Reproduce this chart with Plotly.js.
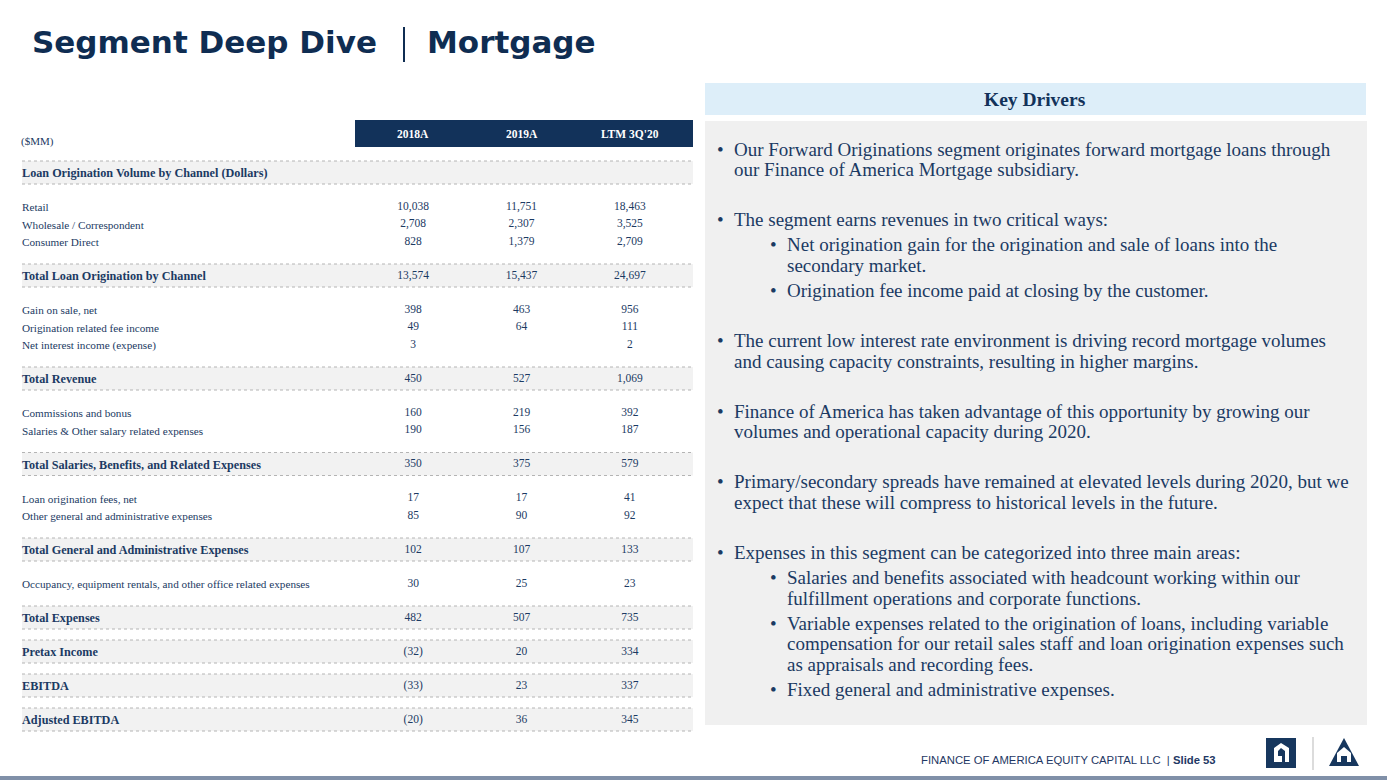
<!DOCTYPE html>
<html><head><meta charset="utf-8">
<script src="https://cdn.plot.ly/plotly-3.0.1.min.js"></script>
<style>html,body{margin:0;padding:0;background:#fff}#chart{width:1387px;height:780px}</style>
</head><body><div id="chart"></div>
<script>
// ---------------- DATA ----------------
const columns = ["2018A", "2019A", "LTM 3Q'20"];
const rowLabels = [
  "Loan Origination Volume by Channel (Dollars)",
  "Retail", "Wholesale / Correspondent", "Consumer Direct",
  "Total Loan Origination by Channel",
  "Gain on sale, net", "Origination related fee income", "Net interest income (expense)",
  "Total Revenue",
  "Commissions and bonus", "Salaries & Other salary related expenses",
  "Total Salaries, Benefits, and Related Expenses",
  "Loan origination fees, net", "Other general and administrative expenses",
  "Total General and Administrative Expenses",
  "Occupancy, equipment rentals, and other office related expenses",
  "Total Expenses", "Pretax Income", "EBITDA", "Adjusted EBITDA"
];
const rowKinds = ["section","item","item","item","total","item","item","item","total",
  "item","item","total","item","item","total","item","total","total","total","total"];
const v2018 = [null, 10038, 2708, 828, 13574, 398, 49, 3, 450, 160, 190, 350, 17, 85, 102, 30, 482, -32, -33, -20];
const v2019 = [null, 11751, 2307, 1379, 15437, 463, 64, null, 527, 219, 156, 375, 17, 90, 107, 25, 507, 20, 23, 36];
const vLTM  = [null, 18463, 3525, 2709, 24697, 956, 111, 2, 1069, 392, 187, 579, 41, 92, 133, 23, 735, 334, 337, 345];
const unitLabel = "($MM)";

const drivers = [
  {level:0, lines:["Our Forward Originations segment originates forward mortgage loans through","our Finance of America Mortgage subsidiary."]},
  {level:0, lines:["The segment earns revenues in two critical ways:"]},
  {level:1, lines:["Net origination gain for the origination and sale of loans into the","secondary market."]},
  {level:1, lines:["Origination fee income paid at closing by the customer."]},
  {level:0, lines:["The current low interest rate environment is driving record mortgage volumes","and causing capacity constraints, resulting in higher margins."]},
  {level:0, lines:["Finance of America has taken advantage of this opportunity by growing our","volumes and operational capacity during 2020."]},
  {level:0, lines:["Primary/secondary spreads have remained at elevated levels during 2020, but we","expect that these will compress to historical levels in the future."]},
  {level:0, lines:["Expenses in this segment can be categorized into three main areas:"]},
  {level:1, lines:["Salaries and benefits associated with headcount working within our","fulfillment operations and corporate functions."]},
  {level:1, lines:["Variable expenses related to the origination of loans, including variable","compensation for our retail sales staff and loan origination expenses such","as appraisals and recording fees."]},
  {level:1, lines:["Fixed general and administrative expenses."]}
];
const titleLeft = "Segment Deep Dive";
const titleRight = "Mortgage";
const panelTitle = "Key Drivers";
const footerText = "FINANCE OF AMERICA EQUITY CAPITAL LLC  | <b>Slide 53</b>";

// ---------------- STYLE / LAYOUT ----------------
const NAVY = "#12325a";
const TEXT = "#1b3a63";
const SERIF = "Liberation Serif, DejaVu Serif, serif";
const TBL_L = 22, TBL_R = 693;
const ROW0 = 173, STEP_ITEM = 17.5, STEP_OTHER = 34;

// row vertical positions from row kinds
const rowY = [];
rowKinds.forEach((k, i) => {
  if (i === 0) rowY.push(ROW0);
  else {
    const step = (k === "item" && rowKinds[i-1] === "item") ? STEP_ITEM : STEP_OTHER;
    rowY.push(rowY[i-1] + step);
  }
});

function fmt(v) {
  if (v === null || v === undefined) return "";
  const s = Math.abs(v).toLocaleString("en-US");
  return v < 0 ? "(" + s + ")" : s;
}

const shapes = [];
const annotations = [];

// table header box
shapes.push({type:"rect", xref:"x", yref:"y", x0:355, x1:TBL_R, y0:120, y1:147, fillcolor:NAVY, line:{width:0}, layer:"below"});
columns.forEach((c, j) => annotations.push({xref:"x2", yref:"y", x:j, y:134, text:"<b>"+c+"</b>", showarrow:false,
  font:{family:SERIF, size:11.5, color:"#ffffff"}}));
annotations.push({xref:"x", yref:"y", x:TBL_L-2, y:141, text:unitLabel, xanchor:"left", showarrow:false, borderpad:0,
  font:{family:SERIF, size:11, color:TEXT}});

// bands and dotted rules
rowKinds.forEach((k, i) => {
  const y = rowY[i];
  if (k !== "item") {
    shapes.push({type:"rect", xref:"x", yref:"y", x0:TBL_L, x1:TBL_R, y0:y-12, y1:y+11, fillcolor:"#f2f2f2", line:{width:0}, layer:"below"});
    [y-12, y+11].forEach(yy => shapes.push({type:"line", xref:"x", yref:"y", x0:TBL_L, x1:TBL_R, y0:yy, y1:yy,
      line:{color:"#b4b4b4", width:1, dash:"dot"}, layer:"below"}));
  }
  annotations.push({xref:"x", yref:"y", x:TBL_L-1, y:y, xanchor:"left", showarrow:false, borderpad:0,
    text: k === "item" ? rowLabels[i] : "<b>"+rowLabels[i]+"</b>",
    font:{family:SERIF, size: k === "item" ? 11.2 : 12.2, color:TEXT}});
});

// right panel
shapes.push({type:"rect", xref:"x", yref:"y", x0:705, x1:1366, y0:83, y1:115, fillcolor:"#ddeef9", line:{width:0}, layer:"below"});
shapes.push({type:"rect", xref:"x", yref:"y", x0:705, x1:1367, y0:121, y1:725, fillcolor:"#f0f0f0", line:{width:0}, layer:"below"});
annotations.push({xref:"x", yref:"y", x:1035, y:99, text:"<b>"+panelTitle+"</b>", showarrow:false,
  font:{family:SERIF, size:19.5, color:NAVY}});

let yy = 149;
const LINE_H = 20.7;
const BODY_SIZE = 19;
drivers.forEach((d, i) => {
  if (i > 0) yy += (d.level === 0 ? 50 : 25);
  const bx = d.level === 0 ? 716 : 769;
  const tx = d.level === 0 ? 733 : 786;
  annotations.push({xref:"x", yref:"y", x:bx, y:yy, text:"•", xanchor:"left", showarrow:false, borderpad:0,
    font:{family:SERIF, size:BODY_SIZE, color:TEXT}});
  d.lines.forEach((ln, k) => {
    annotations.push({xref:"x", yref:"y", x:tx, y:yy + k*LINE_H, text:ln, xanchor:"left", showarrow:false, borderpad:0,
      font:{family:SERIF, size:BODY_SIZE, color:TEXT}});
  });
  yy += (d.lines.length - 1) * LINE_H;
});

// title
annotations.push({xref:"x", yref:"y", x:31, y:42, text:"<b>"+titleLeft+"</b>", xanchor:"left", showarrow:false, borderpad:0,
  font:{family:"DejaVu Sans, Verdana, sans-serif", size:31, color:"#0f2d52"}});
shapes.push({type:"line", xref:"x", yref:"y", x0:404, x1:404, y0:27, y1:62, line:{color:"#0f2d52", width:2}});
annotations.push({xref:"x", yref:"y", x:426, y:42, text:"<b>"+titleRight+"</b>", xanchor:"left", showarrow:false, borderpad:0,
  font:{family:"DejaVu Sans, Verdana, sans-serif", size:31, color:"#0f2d52"}});

// footer
annotations.push({xref:"x", yref:"y", x:1217, y:760, text:footerText, xanchor:"right", showarrow:false, borderpad:0,
  font:{family:"Liberation Sans, Arial, sans-serif", size:11.3, color:"#1f3864"}});
shapes.push({type:"rect", xref:"x", yref:"y", x0:0, x1:1387, y0:776, y1:780, fillcolor:"#8090a8", line:{width:0}});
// logo 1
shapes.push({type:"rect", xref:"x", yref:"y", x0:1266, x1:1296, y0:738, y1:768, fillcolor:"#17375e", line:{width:0}});
shapes.push({type:"path", xref:"x", yref:"y", path:"M1274,762 L1274,748 L1281,743 L1289,748 L1289,762 L1285,762 L1285,751 L1281,748 L1278,751 L1278,756 L1282,756 L1282,762 Z",
  fillcolor:"#ffffff", line:{width:0}});
// separator
shapes.push({type:"line", xref:"x", yref:"y", x0:1313, x1:1313, y0:737, y1:770, line:{color:"#d0d0d0", width:1.5}});
// logo 2
shapes.push({type:"path", xref:"x", yref:"y", path:"M1344,738 L1329,766 L1359,766 Z", fillcolor:"#17375e", line:{width:0}});
shapes.push({type:"path", xref:"x", yref:"y", path:"M1337,762 L1337,753 L1344,747 L1351,753 L1351,762 Z", fillcolor:"#ffffff", line:{width:0}});
shapes.push({type:"path", xref:"x", yref:"y", path:"M1341,762 L1341,756 L1347,756 L1347,762 Z", fillcolor:"#17375e", line:{width:0}});

// ---------------- TRACES ----------------
const series = [v2018, v2019, vLTM];
const traces = series.map((vals, j) => ({
  type:"scatter", mode:"text", xaxis:"x2", yaxis:"y",
  x: vals.map(() => columns[j]), y: rowY, text: vals.map(fmt),
  textposition:"middle center", textfont:{family:SERIF, size:11.5, color:TEXT},
  hoverinfo:"skip", showlegend:false
}));

const layout = {
  width:1387, height:780, margin:{l:0, r:0, t:0, b:0},
  paper_bgcolor:"#ffffff", plot_bgcolor:"rgba(0,0,0,0)", showlegend:false,
  xaxis:{range:[0,1387], domain:[0,1], visible:false, fixedrange:true},
  yaxis:{range:[780,0], domain:[0,1], visible:false, fixedrange:true},
  xaxis2:{type:"category", categoryarray:columns, categoryorder:"array", range:[-0.5,2.5],
    domain:[359/1387, 684/1387], anchor:"y", visible:false, fixedrange:true},
  shapes: shapes, annotations: annotations
};
Plotly.newPlot("chart", traces, layout, {displayModeBar:false, staticPlot:true});
</script></body></html>
